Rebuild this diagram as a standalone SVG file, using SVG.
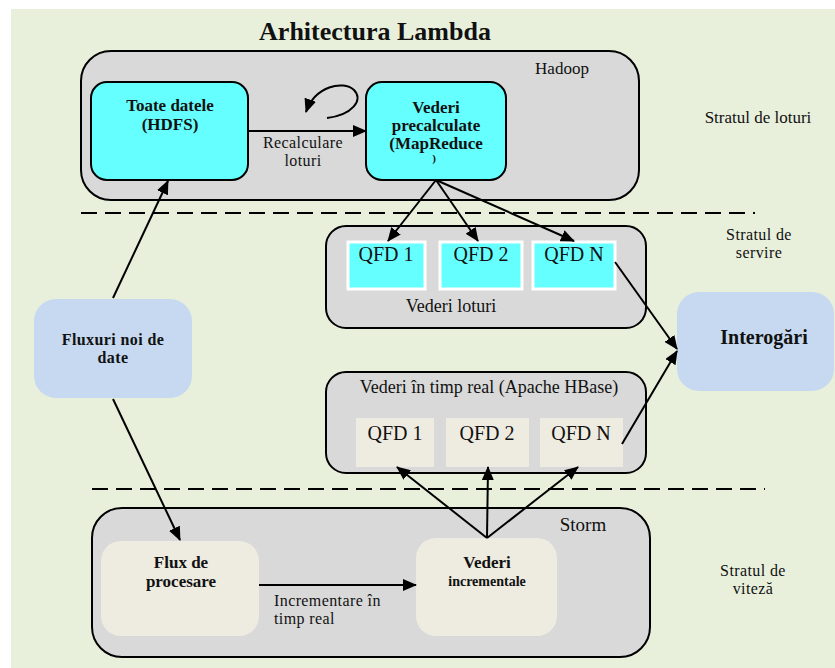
<svg xmlns="http://www.w3.org/2000/svg" width="835" height="668" viewBox="0 0 835 668">
  <defs>
    <marker id="arrow" viewBox="0 0 14 12" refX="13" refY="6" markerWidth="14" markerHeight="12" markerUnits="userSpaceOnUse" orient="auto">
      <path d="M0,0 L14,6 L0,12 z" fill="#000"/>
    </marker>
    <style>
      .bg { fill: #E8F0DC; }
      .container { fill: #D9D9D9; stroke: #000; stroke-width: 2; }
      .cyan { fill: #66FFFF; stroke: #000; stroke-width: 2; }
      .qfd-batch { fill: #66FFFF; stroke: #FFFFFF; stroke-width: 3; }
      .qfd-rt { fill: #EEECE1; }
      .blue { fill: #C6D9F0; }
      .cream { fill: #EEECE1; }
      .dash { stroke: #000; stroke-width: 2; stroke-dasharray: 16 8; fill: none; }
      .edge { stroke: #000; stroke-width: 2; fill: none; marker-end: url(#arrow); }
      text { font-family: "Liberation Serif", "Times New Roman", serif; fill: #111; }
      .title { font-size: 26px; font-weight: bold; }
      .bold { font-size: 17px; font-weight: bold; }
      .label { font-size: 17px; }
      .label2 { font-size: 16px; letter-spacing: 0.4px; }
      .big { font-size: 18px; }
      .qfd { font-size: 20px; }
    </style>
  </defs>

  <!-- page background -->
  <rect class="bg" x="11" y="9" width="824" height="659"/>

  <text class="title" x="375" y="40" text-anchor="middle">Arhitectura Lambda</text>

  <!-- layer separators -->
  <line class="dash" x1="81" y1="213" x2="755" y2="213"/>
  <line class="dash" x1="92" y1="489" x2="765" y2="489"/>

  <!-- layer names -->
  <text class="label" x="758" y="123" text-anchor="middle">Stratul de loturi</text>
  <text class="label2" x="759" y="240" text-anchor="middle">Stratul de</text>
  <text class="label2" x="759" y="258" text-anchor="middle">servire</text>
  <text class="label2" x="753" y="576" text-anchor="middle">Stratul de</text>
  <text class="label2" x="753" y="594" text-anchor="middle">viteză</text>

  <!-- batch layer: Hadoop -->
  <g id="hadoop">
    <rect class="container" x="81" y="51" width="558" height="149" rx="30"/>
    <text class="label" x="562" y="74" text-anchor="middle">Hadoop</text>
  </g>
  <g id="toate-datele">
    <rect class="cyan" x="91" y="82" width="157" height="98" rx="16"/>
    <text class="bold" x="170" y="111" text-anchor="middle">Toate datele</text>
    <text class="bold" x="170" y="130" text-anchor="middle">(HDFS)</text>
  </g>
  <g id="vederi-precalculate">
    <rect class="cyan" x="366" y="82" width="140" height="98" rx="16"/>
    <text class="bold" x="436" y="113" text-anchor="middle">Vederi</text>
    <text class="bold" x="436" y="131" text-anchor="middle">precalculate</text>
    <text class="bold" x="436" y="149" text-anchor="middle">(MapReduce</text>
    <text x="434" y="162" text-anchor="middle" font-size="11" font-weight="bold">)</text>
  </g>

  <!-- serving layer: batch views -->
  <g id="vederi-loturi">
    <rect class="container" x="326" y="226" width="320" height="102" rx="20"/>
    <text class="big" x="451" y="312" text-anchor="middle">Vederi loturi</text>
  </g>
  <g id="qfd-batch-1">
    <rect class="qfd-batch" x="348" y="242" width="77" height="47"/>
    <text class="qfd" x="386" y="261" text-anchor="middle">QFD 1</text>
  </g>
  <g id="qfd-batch-2">
    <rect class="qfd-batch" x="440" y="242" width="82" height="47"/>
    <text class="qfd" x="481" y="261" text-anchor="middle">QFD 2</text>
  </g>
  <g id="qfd-batch-n">
    <rect class="qfd-batch" x="533" y="242" width="82" height="47"/>
    <text class="qfd" x="574" y="261" text-anchor="middle">QFD N</text>
  </g>

  <!-- serving layer: real-time views -->
  <g id="vederi-timp-real">
    <rect class="container" x="326" y="372" width="320" height="101" rx="20"/>
    <text class="big" x="489" y="393" text-anchor="middle">Vederi în timp real (Apache HBase)</text>
  </g>
  <g id="qfd-rt-1">
    <rect class="qfd-rt" x="356" y="418" width="78" height="49"/>
    <text class="qfd" x="395" y="440" text-anchor="middle">QFD 1</text>
  </g>
  <g id="qfd-rt-2">
    <rect class="qfd-rt" x="446" y="418" width="83" height="49"/>
    <text class="qfd" x="487" y="440" text-anchor="middle">QFD 2</text>
  </g>
  <g id="qfd-rt-n">
    <rect class="qfd-rt" x="540" y="418" width="83" height="49"/>
    <text class="qfd" x="581" y="440" text-anchor="middle">QFD N</text>
  </g>

  <!-- queries -->
  <g id="interogari">
    <rect class="blue" x="677" y="292" width="157" height="99" rx="22"/>
    <text x="764" y="344" text-anchor="middle" font-size="20" font-weight="bold">Interogări</text>
  </g>

  <!-- incoming data -->
  <g id="fluxuri-noi">
    <rect class="blue" x="34" y="299" width="158" height="99" rx="22"/>
    <text x="113" y="345" text-anchor="middle" font-size="16" font-weight="bold" letter-spacing="0.4">Fluxuri noi de</text>
    <text x="113" y="363" text-anchor="middle" font-size="16" font-weight="bold" letter-spacing="0.4">date</text>
  </g>

  <!-- speed layer: Storm -->
  <g id="storm">
    <rect class="container" x="92" y="508" width="558" height="149" rx="30"/>
    <text x="583" y="531" text-anchor="middle" font-size="19">Storm</text>
  </g>
  <g id="flux-procesare">
    <rect class="cream" x="101" y="541" width="158" height="95" rx="20"/>
    <text class="bold" x="181" y="568" text-anchor="middle">Flux de</text>
    <text class="bold" x="181" y="587" text-anchor="middle">procesare</text>
  </g>
  <g id="vederi-incrementale">
    <rect class="cream" x="416" y="538" width="141" height="98" rx="20"/>
    <text class="bold" x="487" y="568" text-anchor="middle">Vederi</text>
    <text x="487" y="586" text-anchor="middle" font-size="14" font-weight="bold">incrementale</text>
  </g>

  <!-- connectors -->
  <g id="connectors">
    <path class="edge" d="M113,298 L168,181"/>
    <path class="edge" d="M113,399 L180,540"/>
    <path class="edge" d="M248,131 L366,131"/>
    <path class="edge" d="M327,118 C352,115 364,100 354,90 C343,80 315,86 306,112"/>
    <path class="edge" d="M436,180 L388,241"/>
    <path class="edge" d="M436,180 L478,241"/>
    <path class="edge" d="M436,180 L574,241"/>
    <path class="edge" d="M615,262 L677,349"/>
    <path class="edge" d="M622,444 L677,351"/>
    <path class="edge" d="M259,585 L416,585"/>
    <path class="edge" d="M487,538 L397,467"/>
    <path class="edge" d="M487,538 L488,467"/>
    <path class="edge" d="M487,538 L578,467"/>
  </g>

  <!-- edge labels -->
  <text class="label2" x="303" y="148" text-anchor="middle">Recalculare</text>
  <text class="label2" x="303" y="166" text-anchor="middle">loturi</text>
  <text class="label2" x="274" y="606">Incrementare în</text>
  <text class="label2" x="274" y="624">timp real</text>
</svg>
